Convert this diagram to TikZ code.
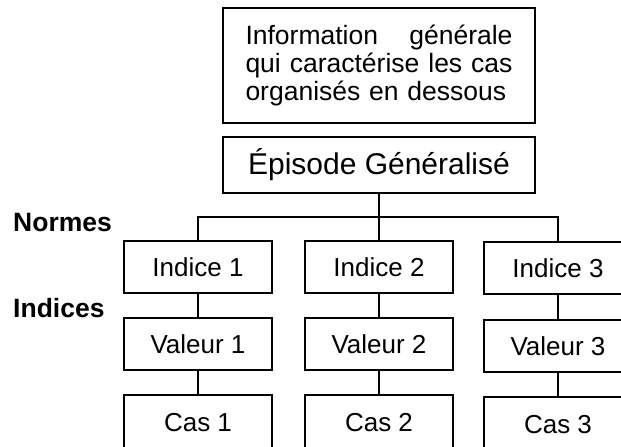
\documentclass[tikz,border=0pt]{standalone}
\usepackage{fontspec}
\setmainfont{Liberation Sans}
\begin{document}
\begin{tikzpicture}[x=1pt,y=-1pt,
  box/.style={draw,line width=1.6pt,inner sep=0pt,minimum width=148pt,minimum height=52pt,font=\fontsize{26}{28}\selectfont},
  lbl/.style={inner sep=0pt,font=\fontsize{26.5}{28}\selectfont\bfseries,anchor=west},
  conn/.style={line width=1.6pt}]
\useasboundingbox (0,0) rectangle (621,447);
\clip (0,0) rectangle (621,447);
\node[draw,line width=1.6pt,minimum width=312pt,minimum height=115pt,inner sep=0pt,
      text width=267pt,align=left,font=\fontsize{26.5}{28}\selectfont] (info) at (379,65.5)
  {\makebox[267pt][s]{Information\hfill générale}\\\makebox[267pt][s]{qui\hfill caractérise\hfill les\hfill cas}\\organisés~en~dessous};
\node[draw,line width=1.6pt,minimum width=312pt,minimum height=56pt,inner sep=0pt,
      font=\fontsize{30}{32}\selectfont] (epi) at (379,165) {Épisode Généralisé};
\node[box] (i1) at (198,267) {Indice 1};
\node[box] (i2) at (379,267) {Indice 2};
\node[box] (i3) at (558,268) {Indice 3};
\node[box] (v1) at (198,344) {Valeur 1};
\node[box] (v2) at (379,344) {Valeur 2};
\node[box] (v3) at (558,346) {Valeur 3};
\node[box,minimum height=56pt] (c1) at (198,423) {Cas 1};
\node[box,minimum height=56pt] (c2) at (379,423) {Cas 2};
\node[box,minimum height=56pt] (c3) at (558,425) {Cas 3};
\node[lbl] (normes) at (13,223) {Normes};
\node[lbl] (indices) at (13,308) {Indices};
\coordinate (bus) at (379,217);
\draw[conn] (epi.south) -- (bus);
\draw[conn] (i1.north) |- (bus) -| (i3.north);
\draw[conn] (bus) -- (i2.north);
\foreach \k in {1,2,3}{
  \draw[conn] (i\k.south) -- (v\k.north);
  \draw[conn] (v\k.south) -- (c\k.north);
}
\end{tikzpicture}
\end{document}
